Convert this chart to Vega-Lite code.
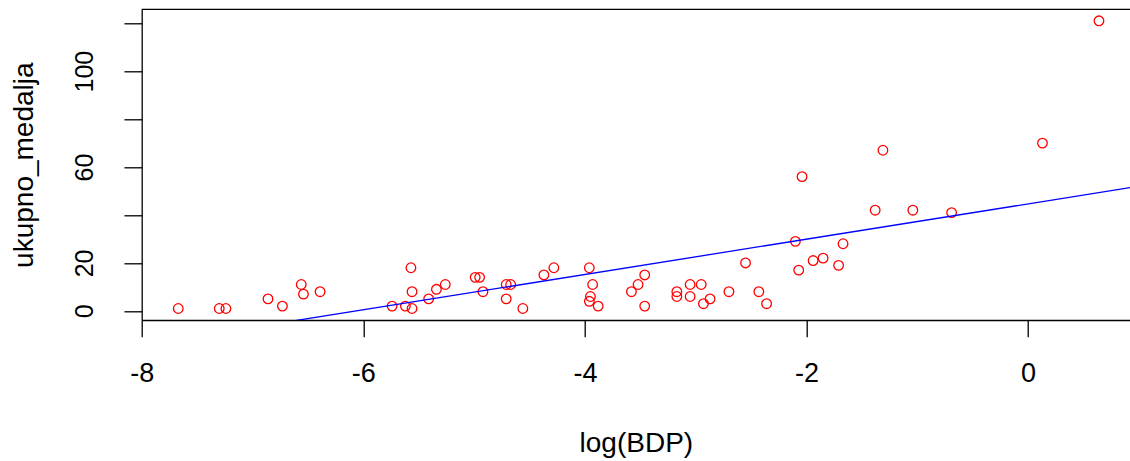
{
  "$schema": "https://vega.github.io/schema/vega-lite/v6.json",
  "width": 988.3,
  "height": 310.7,
  "autosize": "none",
  "padding": {"left": 141.7, "top": 9.3, "right": 0, "bottom": 141},
  "background": "white",
  "config": {"view": {"stroke": null}, "font": "Liberation Sans"},
  "datasets": {
    "points": [
      {"log_BDP": -7.67, "ukupno_medalja": 1},
      {"log_BDP": -7.30, "ukupno_medalja": 1},
      {"log_BDP": -7.24, "ukupno_medalja": 1},
      {"log_BDP": -6.86, "ukupno_medalja": 5},
      {"log_BDP": -6.73, "ukupno_medalja": 2},
      {"log_BDP": -6.56, "ukupno_medalja": 11},
      {"log_BDP": -6.54, "ukupno_medalja": 7},
      {"log_BDP": -6.39, "ukupno_medalja": 8},
      {"log_BDP": -5.74, "ukupno_medalja": 2},
      {"log_BDP": -5.62, "ukupno_medalja": 2},
      {"log_BDP": -5.57, "ukupno_medalja": 18},
      {"log_BDP": -5.56, "ukupno_medalja": 8},
      {"log_BDP": -5.56, "ukupno_medalja": 1},
      {"log_BDP": -5.41, "ukupno_medalja": 5},
      {"log_BDP": -5.34, "ukupno_medalja": 9},
      {"log_BDP": -5.26, "ukupno_medalja": 11},
      {"log_BDP": -4.99, "ukupno_medalja": 14},
      {"log_BDP": -4.95, "ukupno_medalja": 14},
      {"log_BDP": -4.92, "ukupno_medalja": 8},
      {"log_BDP": -4.71, "ukupno_medalja": 11},
      {"log_BDP": -4.67, "ukupno_medalja": 11},
      {"log_BDP": -4.71, "ukupno_medalja": 5},
      {"log_BDP": -4.56, "ukupno_medalja": 1},
      {"log_BDP": -4.37, "ukupno_medalja": 15},
      {"log_BDP": -4.28, "ukupno_medalja": 18},
      {"log_BDP": -3.96, "ukupno_medalja": 18},
      {"log_BDP": -3.93, "ukupno_medalja": 11},
      {"log_BDP": -3.95, "ukupno_medalja": 6},
      {"log_BDP": -3.96, "ukupno_medalja": 4},
      {"log_BDP": -3.88, "ukupno_medalja": 2},
      {"log_BDP": -3.58, "ukupno_medalja": 8},
      {"log_BDP": -3.52, "ukupno_medalja": 11},
      {"log_BDP": -3.46, "ukupno_medalja": 15},
      {"log_BDP": -3.46, "ukupno_medalja": 2},
      {"log_BDP": -3.17, "ukupno_medalja": 8},
      {"log_BDP": -3.17, "ukupno_medalja": 6},
      {"log_BDP": -3.05, "ukupno_medalja": 11},
      {"log_BDP": -2.95, "ukupno_medalja": 11},
      {"log_BDP": -3.05, "ukupno_medalja": 6},
      {"log_BDP": -2.93, "ukupno_medalja": 3},
      {"log_BDP": -2.87, "ukupno_medalja": 5},
      {"log_BDP": -2.70, "ukupno_medalja": 8},
      {"log_BDP": -2.55, "ukupno_medalja": 20},
      {"log_BDP": -2.43, "ukupno_medalja": 8},
      {"log_BDP": -2.36, "ukupno_medalja": 3},
      {"log_BDP": -2.10, "ukupno_medalja": 29},
      {"log_BDP": -2.07, "ukupno_medalja": 17},
      {"log_BDP": -2.04, "ukupno_medalja": 56},
      {"log_BDP": -1.94, "ukupno_medalja": 21},
      {"log_BDP": -1.85, "ukupno_medalja": 22},
      {"log_BDP": -1.71, "ukupno_medalja": 19},
      {"log_BDP": -1.67, "ukupno_medalja": 28},
      {"log_BDP": -1.38, "ukupno_medalja": 42},
      {"log_BDP": -1.31, "ukupno_medalja": 67},
      {"log_BDP": -1.04, "ukupno_medalja": 42},
      {"log_BDP": -0.69, "ukupno_medalja": 41},
      {"log_BDP": 0.13, "ukupno_medalja": 70},
      {"log_BDP": 0.64, "ukupno_medalja": 121}
    ],
    "fit": [
      {"log_BDP": -8.0, "ukupno_medalja": -14.25},
      {"log_BDP": 0.92, "ukupno_medalja": 51.4}
    ]
  },
  "layer": [
    {
      "data": {"name": "points"},
      "mark": {"type": "point", "shape": "circle", "filled": false, "color": "#ff0000", "strokeWidth": 1.3, "size": 92, "clip": true, "opacity": 1},
      "encoding": {
        "x": {
          "field": "log_BDP", "type": "quantitative",
          "scale": {"domain": [-8, 0.92], "nice": false, "zero": false},
          "axis": {
            "values": [-8, -6, -4, -2, 0],
            "labelExpr": "'' + datum.value",
            "title": "log(BDP)",
            "grid": false,
            "tickSize": 16.7, "tickColor": "black", "tickWidth": 1.3,
            "domainColor": "black", "domainWidth": 1.3,
            "labelFontSize": 27, "labelColor": "black", "labelFont": "Liberation Sans",
            "labelBaseline": "alphabetic", "labelPadding": 45, "labelFlush": false, "labelOverlap": false,
            "titleFontSize": 28, "titleFontWeight": "normal", "titleColor": "black", "titleFont": "Liberation Sans",
            "titleBaseline": "alphabetic", "titleY": 131, "titleAlign": "center"
          }
        },
        "y": {
          "field": "ukupno_medalja", "type": "quantitative",
          "scale": {"domain": [-3.8, 125.8], "nice": false, "zero": false},
          "axis": {
            "values": [0, 20, 40, 60, 80, 100, 120],
            "labelExpr": "(datum.value == 40 || datum.value == 80 || datum.value == 120) ? '' : '' + datum.value",
            "title": "ukupno_medalja",
            "grid": false,
            "tickSize": 17.7, "tickColor": "black", "tickWidth": 1.3,
            "domainColor": "black", "domainWidth": 1.3,
            "labelFontSize": 25, "labelColor": "black", "labelFont": "Liberation Sans",
            "labelAngle": -90, "labelAlign": "center", "labelBaseline": "middle", "labelPadding": 40,
            "labelOverlap": false, "labelFlush": false, "labelBound": false,
            "titleFontSize": 28, "titleFontWeight": "normal", "titleColor": "black", "titleFont": "Liberation Sans",
            "titleAngle": -90, "titleBaseline": "alphabetic", "titleAlign": "center", "titleX": -109.7
          }
        }
      }
    },
    {
      "data": {"name": "fit"},
      "mark": {"type": "line", "color": "#0000ff", "strokeWidth": 1.3, "clip": true},
      "encoding": {
        "x": {"field": "log_BDP", "type": "quantitative"},
        "y": {"field": "ukupno_medalja", "type": "quantitative"}
      }
    },
    {
      "data": {"values": [{}]},
      "mark": {"type": "rule", "color": "black", "strokeWidth": 1.3},
      "encoding": {"y": {"datum": 125.8, "type": "quantitative"}}
    }
  ]
}
